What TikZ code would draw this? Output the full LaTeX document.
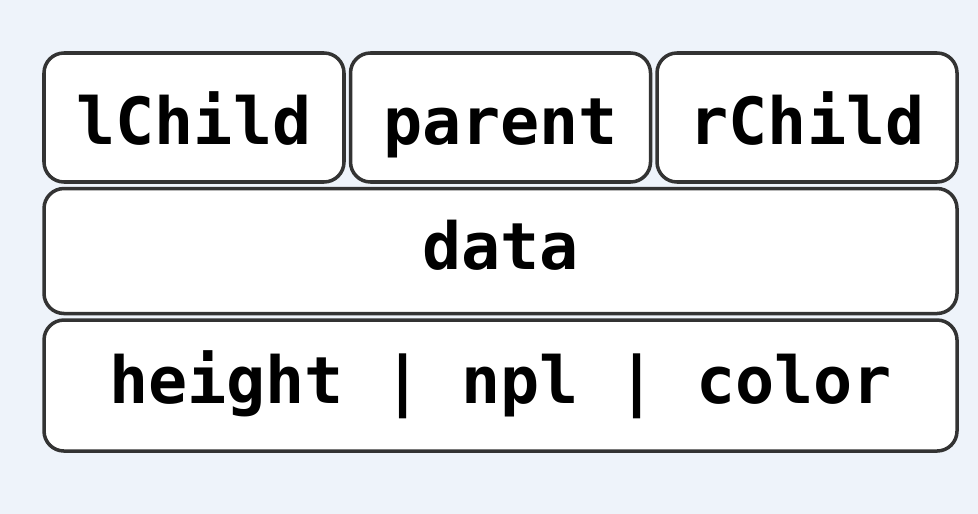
\documentclass[tikz,border=0pt]{standalone}
\usepackage{fontspec}
\setmonofont{DejaVu Sans Mono}
\usetikzlibrary{positioning}
\definecolor{bgblue}{HTML}{EEF3FA}
\definecolor{edgegray}{HTML}{333333}
\begin{document}
\begin{tikzpicture}[node distance=0.06cm]
        \tikzstyle{field} = [rectangle, rounded corners=0.4cm, draw=edgegray, line width=2pt, fill=white, inner sep=0pt, text height=28pt, text depth=7pt, align=center, font=\ttfamily\bfseries\fontsize{37}{40}\selectfont]
        \tikzstyle{small} = [field, minimum width=6.0cm, minimum height=2.58cm, text height=34pt, text depth=3pt]
        \tikzstyle{wide} = [field, minimum width=18.26cm]

        \fill[bgblue] (0,0) rectangle (19.56,-10.28);

        \node (lChild) [small] at (3.88,-2.35) {lChild};
        \node (parent) [small, right=of lChild] {parent};
        \node (rChild) [small, right=of parent] {rChild};
        \node (data) [wide, minimum height=2.5cm, below=of parent] {data};
        \node (meta) [wide, minimum height=2.62cm, below=of data] {height | npl | color};
    \end{tikzpicture}
\end{document}
